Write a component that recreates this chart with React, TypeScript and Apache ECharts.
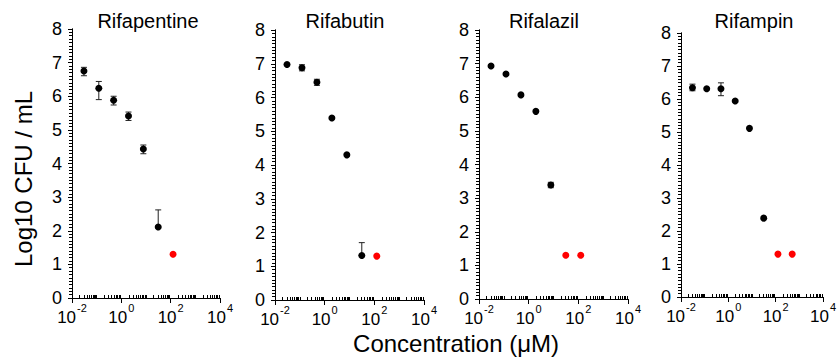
import React, { useEffect, useRef } from "react";
import * as echarts from "echarts";

// ---- data ----
const drugNames = ["Rifapentine", "Rifabutin", "Rifalazil", "Rifampin"];
const doses = [0.0305, 0.122, 0.488, 1.95, 7.81, 31.25, 125, 500];

const rifapentineVals = [6.75, 6.24, 5.88, 5.41, 4.43, 2.11];
const rifapentineBelowLimit = [125];
const rifapentineErr = [
  [0.0305, 6.61, 6.86],
  [0.122, 5.9, 6.44],
  [0.488, 5.74, 6.0],
  [1.95, 5.28, 5.53],
  [7.81, 4.29, 4.55],
  [31.25, 2.11, 2.62],
];

const rifabutinVals = [6.98, 6.88, 6.45, 5.39, 4.3, 1.32];
const rifabutinBelowLimit = [125];
const rifabutinErr = [
  [0.122, 6.79, 6.97],
  [0.488, 6.36, 6.54],
  [31.25, 1.32, 1.7],
];

const rifalazilVals = [6.93, 6.69, 6.07, 5.58, 3.39];
const rifalazilBelowLimit = [31.25, 125];
const rifalazilErr = [[7.81, 3.31, 3.47]];

const rifampinVals = [6.34, 6.31, 6.31, 5.94, 5.11, 2.39];
const rifampinBelowLimit = [125, 500];
const rifampinErr = [
  [0.0305, 6.25, 6.45],
  [0.488, 6.1, 6.49],
];

const detectionLimit = 1.3;
const yTicks = [0, 1, 2, 3, 4, 5, 6, 7, 8];
const xMajorTicks = [0.01, 1, 100, 10000];

const panelVals = [rifapentineVals, rifabutinVals, rifalazilVals, rifampinVals];
const panelBelow = [rifapentineBelowLimit, rifabutinBelowLimit, rifalazilBelowLimit, rifampinBelowLimit];
const panelErr = [rifapentineErr, rifabutinErr, rifalazilErr, rifampinErr];

const FONT = "'Liberation Sans', Arial, Helvetica, sans-serif";

function minorXTicks(): number[] {
  const out: number[] = [];
  for (let e = -2; e < 4; e++) {
    for (let m = 1; m < 10; m++) {
      if (m === 1 && e % 2 === 0) continue;
      out.push(m * Math.pow(10, e));
    }
  }
  return out;
}

function minorYTicks(): number[] {
  const out: number[] = [];
  for (let k = 1; k < 80; k++) {
    if (k % 10 === 0) continue;
    out.push(k / 10);
  }
  return out;
}

export default function App() {
  const ref = useRef<HTMLDivElement>(null);
  useEffect(() => {
    if (!ref.current) return;
    const chart = echarts.init(ref.current, null, { renderer: "svg" });

    const grids = [
      { left: 72, top: 29, width: 148, height: 269 },
      { left: 275, top: 30, width: 149, height: 270 },
      { left: 479, top: 30, width: 149, height: 269 },
      { left: 681, top: 33, width: 145, height: 264 },
    ];
    const titleX = [148, 345, 544, 754];

    const xAxes: any[] = [];
    const yAxes: any[] = [];
    const series: any[] = [];
    const xMinors = minorXTicks();
    const yMinors = minorYTicks();
    const line = { show: true, onZero: false, lineStyle: { color: "#000", width: 1 } };

    grids.forEach((g, i) => {
      xAxes.push({
        type: "log",
        logBase: 10,
        gridIndex: i,
        position: "bottom",
        min: 0.01,
        max: 10000,
        axisLine: line,
        axisTick: { show: true, inside: false, length: 5, customValues: xMajorTicks, lineStyle: { color: "#000" } },
        splitLine: { show: false },
        axisLabel: {
          show: true,
          customValues: xMajorTicks,
          margin: 4,
          color: "#000",
          fontFamily: FONT,
          formatter: (v: number) => {
            const e = Math.round(Math.log10(v));
            return "{b|10}{s|" + (e < 0 ? "-" + Math.abs(e) : String(e)) + "}";
          },
          rich: {
            b: { fontSize: 17, fontFamily: FONT, color: "#000", lineHeight: 24, verticalAlign: "bottom" },
            s: { fontSize: 11, fontFamily: FONT, color: "#000", lineHeight: 24, verticalAlign: "top", padding: [0, 0, 0, 1] },
          },
        },
      });
      xAxes.push({
        type: "log",
        logBase: 10,
        gridIndex: i,
        position: "bottom",
        offset: 0,
        min: 0.01,
        max: 10000,
        axisLine: line,
        axisTick: { show: true, inside: true, length: 3, customValues: xMinors, lineStyle: { color: "#000", width: 1 } },
        axisLabel: { show: false },
        splitLine: { show: false },
      });
      yAxes.push({
        type: "value",
        gridIndex: i,
        position: "left",
        min: 0,
        max: 8,
        interval: 1,
        axisLine: line,
        axisTick: { show: true, inside: false, length: 4, lineStyle: { color: "#000" } },
        splitLine: { show: false },
        axisLabel: {
          margin: 10,
          color: "#000",
          fontSize: 18,
          fontFamily: FONT,
          customValues: yTicks,
        },
      });
      yAxes.push({
        type: "value",
        gridIndex: i,
        position: "left",
        offset: 0,
        min: 0,
        max: 8,
        axisLine: line,
        axisTick: { show: true, inside: false, length: 3, customValues: yMinors, lineStyle: { color: "#000", width: 1 } },
        axisLabel: { show: false },
        splitLine: { show: false },
      });

      const vals = panelVals[i];
      series.push({
        type: "custom",
        xAxisIndex: i * 2,
        yAxisIndex: i * 2,
        z: 2,
        encode: { x: 0, y: [1, 2] },
        data: panelErr[i],
        renderItem: (params: any, api: any) => {
          const x = api.value(0);
          const pLo = api.coord([x, api.value(1)]);
          const pHi = api.coord([x, api.value(2)]);
          const st = { stroke: "#222", lineWidth: 1 };
          return {
            type: "group",
            children: [
              { type: "line", shape: { x1: pLo[0], y1: pLo[1], x2: pHi[0], y2: pHi[1] }, style: st },
              { type: "line", shape: { x1: pHi[0] - 3, y1: pHi[1], x2: pHi[0] + 3, y2: pHi[1] }, style: st },
              { type: "line", shape: { x1: pLo[0] - 3, y1: pLo[1], x2: pLo[0] + 3, y2: pLo[1] }, style: st },
            ],
          };
        },
      });
      series.push({
        type: "scatter",
        xAxisIndex: i * 2,
        yAxisIndex: i * 2,
        z: 3,
        symbol: "circle",
        symbolSize: 7,
        itemStyle: { color: "#000", opacity: 1 },
        data: vals.map((v, k) => [doses[k], v]),
      });
      series.push({
        type: "scatter",
        xAxisIndex: i * 2,
        yAxisIndex: i * 2,
        z: 3,
        symbol: "circle",
        symbolSize: 7,
        itemStyle: { color: "#ff0000", opacity: 1 },
        data: panelBelow[i].map((d) => [d, detectionLimit]),
      });
    });

    const graphics: any[] = drugNames.map((n, i) => ({
      type: "text",
      x: titleX[i],
      y: 21,
      style: { text: n, fontSize: 20, fontFamily: FONT, fill: "#000", textAlign: "center", textVerticalAlign: "middle" },
    }));
    graphics.push({
      type: "text",
      x: 23,
      y: 179,
      rotation: Math.PI / 2,
      style: { text: "Log10 CFU / mL", fontSize: 24, fontFamily: FONT, fill: "#000", textAlign: "center", textVerticalAlign: "middle" },
    });
    graphics.push({
      type: "text",
      x: 456,
      y: 343,
      style: { text: "Concentration (\u03bcM)", fontSize: 24, fontFamily: FONT, fill: "#000", textAlign: "center", textVerticalAlign: "middle" },
    });

    chart.setOption({
      animation: false,
      backgroundColor: "#fff",
      grid: grids.map((g) => ({ ...g, containLabel: false })),
      xAxis: xAxes,
      yAxis: yAxes,
      series,
      graphic: graphics,
    });
    return () => chart.dispose();
  }, []);
  return (
    <div
      ref={ref}
      style={{ position: "fixed", left: 0, top: 0, width: 839, height: 358, background: "#fff" }}
    />
  );
}
